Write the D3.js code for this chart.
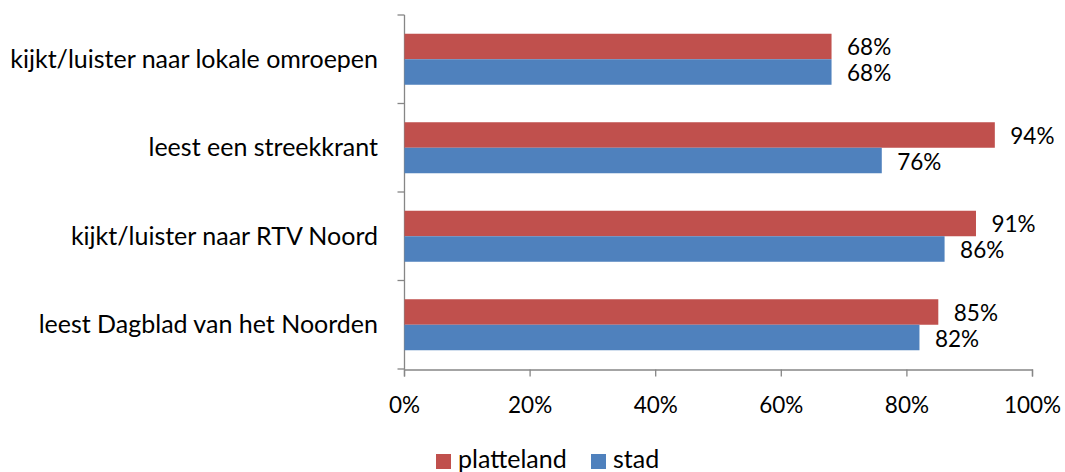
<!DOCTYPE html>
<html><head><meta charset="utf-8">
<script src="https://cdn.jsdelivr.net/npm/d3@7"></script>
<style>body{margin:0;background:#fff}svg{display:block}text{font-family:Lato,"Open Sans",sans-serif;fill:#000}</style>
</head><body><svg id="c" width="1065" height="472"></svg>
<script>
const categories = ["kijkt/luister naar lokale omroepen","leest een streekkrant","kijkt/luister naar RTV Noord","leest Dagblad van het Noorden"];
const seriesNames = ["platteland","stad"];
const platteland = [68,94,91,85];
const stad = [68,76,86,82];
const xTicks = [0,20,40,60,80,100];
const colors = ["#C0504D","#4F81BD"];

const svg = d3.select("#c");
const x = d3.scaleLinear().domain([0,100]).range([404,1032]);
const y = d3.scaleBand().domain(categories).range([15,369]).paddingInner(0).paddingOuter(0);
const inner = d3.scaleBand().domain(seriesNames).range([0,y.bandwidth()]).paddingOuter(0.735).paddingInner(0);
const axisColor = "#868686";

// x axis
const xa = svg.append("g").attr("transform","translate(0,369.5)")
  .call(d3.axisBottom(x).tickValues(xTicks).tickSize(7).tickFormat(d=>d+"%"));
xa.select(".domain").attr("stroke",axisColor).attr("stroke-width",1.3);
xa.selectAll(".tick line").attr("stroke",axisColor).attr("stroke-width",1.3);
xa.selectAll(".tick text").attr("font-size",22.5).attr("font-family","Lato").attr("fill","#000").attr("dy",null).attr("y",43.5);

// y axis (ticks at band boundaries)
const yb = svg.append("g").attr("transform","translate(404.5,0)");
yb.append("line").attr("y1",15).attr("y2",369.5).attr("stroke",axisColor).attr("stroke-width",1.3);
const bounds = categories.map(c=>y(c)).concat([y(categories[categories.length-1])+y.bandwidth()]);
yb.selectAll("line.t").data(bounds).join("line").attr("class","t")
  .attr("x1",-7).attr("x2",0).attr("y1",d=>d).attr("y2",d=>d).attr("stroke",axisColor).attr("stroke-width",1.3);

// category labels
svg.selectAll("text.cat").data(categories).join("text").attr("class","cat")
  .attr("x",378).attr("y",d=>y(d)+y.bandwidth()/2+8.5).attr("text-anchor","end").attr("font-size",25).text(d=>d);

const data = [platteland, stad];
data.forEach((vals,si)=>{
  const g = svg.append("g");
  g.selectAll("rect").data(vals).join("rect")
    .attr("x",x(0)+0.5).attr("y",(d,i)=>y(categories[i])+inner(seriesNames[si]))
    .attr("width",d=>x(d)-x(0)).attr("height",inner.bandwidth()).attr("fill",colors[si]);
  g.selectAll("text").data(vals).join("text")
    .attr("x",d=>x(d)+16).attr("y",(d,i)=>y(categories[i])+inner(seriesNames[si])+inner.bandwidth()/2+9)
    .attr("font-size",22.5).text(d=>d+"%");
});

// legend
const lg = svg.append("g");
const lx = [436,591];
seriesNames.forEach((s,i)=>{
  lg.append("rect").attr("x",lx[i]).attr("y",454).attr("width",15).attr("height",15).attr("fill",colors[i]);
  lg.append("text").attr("x",lx[i]+22).attr("y",468).attr("font-size",25).text(s);
});
</script></body></html>
